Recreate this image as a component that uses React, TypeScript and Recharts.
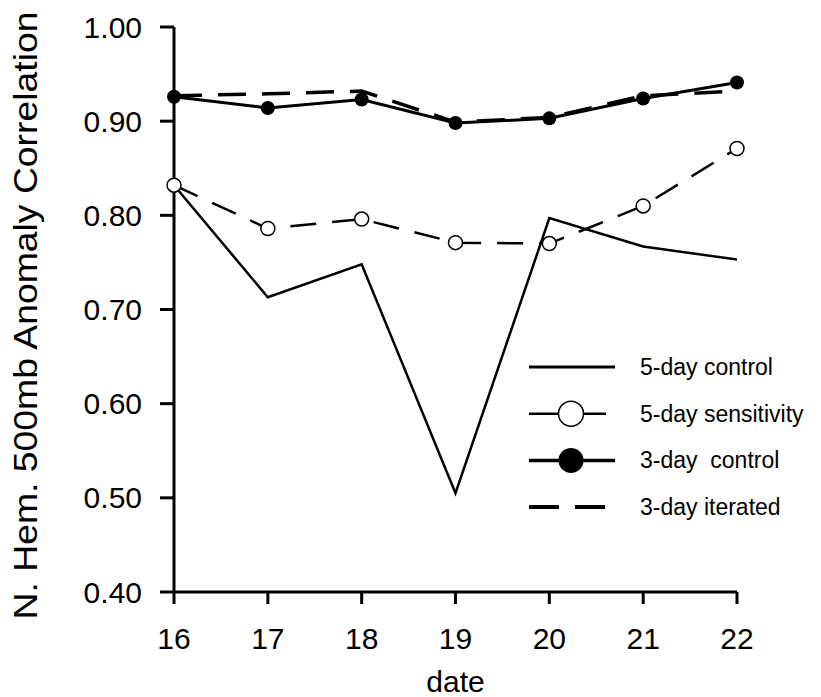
import React from 'react';
import { LineChart, Line, XAxis, YAxis } from 'recharts';

const dates = [16, 17, 18, 19, 20, 21, 22];
const fiveDayControl = [0.832, 0.713, 0.748, 0.505, 0.797, 0.767, 0.753];
const fiveDaySensitivity = [0.832, 0.786, 0.796, 0.771, 0.770, 0.810, 0.871];
const threeDayControl = [0.926, 0.914, 0.923, 0.898, 0.903, 0.924, 0.941];
const threeDayIterated = [0.927, 0.929, 0.932, 0.899, 0.904, 0.927, 0.932];
const yTicks = [0.4, 0.5, 0.6, 0.7, 0.8, 0.9, 1.0];
const legendNames = ['5-day control', '5-day sensitivity', '3-day  control', '3-day iterated'];

const data = dates.map((d, i) => ({
  date: d,
  c5: fiveDayControl[i],
  s5: fiveDaySensitivity[i],
  c3: threeDayControl[i],
  i3: threeDayIterated[i],
}));

const FONT = '"Liberation Sans", Arial, Helvetica, sans-serif';

const YLabel = (props: any) => {
  const vb = props.viewBox || {};
  const cy = (vb.y || 0) + (vb.height || 0) / 2 + 6;
  return (
    <text
      transform={`translate(37,${cy}) rotate(-90)`}
      textAnchor="middle"
      fontSize={33}
      fontFamily={FONT}
      fill="#000"
      textLength={608}
      lengthAdjust="spacingAndGlyphs"
    >
      N. Hem. 500mb Anomaly Correlation
    </text>
  );
};

const XLabel = (props: any) => {
  const vb = props.viewBox || {};
  const cx = (vb.x || 0) + (vb.width || 0) / 2;
  return (
    <text x={cx} y={(vb.y || 0) + 100} textAnchor="middle" fontSize={30} fontFamily={FONT} fill="#000">
      date
    </text>
  );
};

const LegendBox = () => {
  const rowH = 46.7;
  const items = legendNames;
  return (
    <svg width={300} height={200} style={{ position: 'absolute', left: 520, top: 343 }}>
      {items.map((name, i) => {
        const y = 24 + i * rowH;
        let sample: React.ReactNode = null;
        if (i === 0) {
          sample = <line x1={9} x2={95} y1={y} y2={y} stroke="#000" strokeWidth={3} />;
        } else if (i === 1) {
          sample = (
            <g>
              <line x1={9} x2={86} y1={y} y2={y} stroke="#000" strokeWidth={2.5} />
              <circle cx={51} cy={y} r={12.5} fill="#fff" stroke="#000" strokeWidth={1.5} />
            </g>
          );
        } else if (i === 2) {
          sample = (
            <g>
              <line x1={9} x2={95} y1={y} y2={y} stroke="#000" strokeWidth={3.5} />
              <circle cx={51} cy={y} r={12.5} fill="#000" />
            </g>
          );
        } else {
          sample = <line x1={9} x2={86} y1={y} y2={y} stroke="#000" strokeWidth={4} strokeDasharray="30 16" />;
        }
        return (
          <g key={name}>
            {sample}
            <text x={120} y={y} dy="0.35em" fontSize={23} fontFamily={FONT} fill="#000" style={{ whiteSpace: 'pre' }}>
              {name}
            </text>
          </g>
        );
      })}
    </svg>
  );
};

export default function App() {
  return (
    <div style={{ position: 'absolute', left: 0, top: 0, width: 821, height: 697, background: '#fff' }}>
      <LineChart width={821} height={697} data={data} margin={{ top: 27, right: 84, bottom: 45, left: 0 }}>
        <XAxis
          dataKey="date"
          type="number"
          domain={[16, 22]}
          ticks={dates}
          interval={0}
          stroke="#000"
          strokeWidth={3}
          axisLine={{ stroke: '#000', strokeWidth: 3 }}
          tickLine={{ stroke: '#000', strokeWidth: 3 }}
          tickSize={12}
          tickMargin={24}
          height={60}
          tick={{ fill: '#000', fontSize: 30, fontFamily: FONT }}
          label={<XLabel />}
        />
        <YAxis
          type="number"
          domain={[0.4, 1.0]}
          ticks={yTicks}
          interval={0}
          width={174}
          stroke="#000"
          strokeWidth={3}
          axisLine={{ stroke: '#000', strokeWidth: 3 }}
          tickLine={{ stroke: '#000', strokeWidth: 3 }}
          tickSize={14}
          tickMargin={18}
          tickFormatter={(v: number) => v.toFixed(2)}
          tick={{ fill: '#000', fontSize: 30, fontFamily: FONT }}
          label={<YLabel />}
        />
        <Line
          dataKey="c5"
          stroke="#000"
          strokeWidth={2.5}
          dot={false}
          activeDot={false}
          isAnimationActive={false}
          type="linear"
        />
        <Line
          dataKey="s5"
          stroke="#000"
          strokeWidth={2.5}
          strokeDasharray="26 16"
          dot={{ r: 7, fill: '#fff', stroke: '#000', strokeWidth: 1.5, strokeDasharray: '' }}
          activeDot={false}
          isAnimationActive={false}
          type="linear"
        />
        <Line
          dataKey="i3"
          stroke="#000"
          strokeWidth={3.5}
          strokeDasharray="28 16"
          dot={false}
          activeDot={false}
          isAnimationActive={false}
          type="linear"
        />
        <Line
          dataKey="c3"
          stroke="#000"
          strokeWidth={3}
          dot={{ r: 7, fill: '#000', stroke: '#000', strokeWidth: 0 }}
          activeDot={false}
          isAnimationActive={false}
          type="linear"
        />
      </LineChart>
      <LegendBox />
    </div>
  );
}
